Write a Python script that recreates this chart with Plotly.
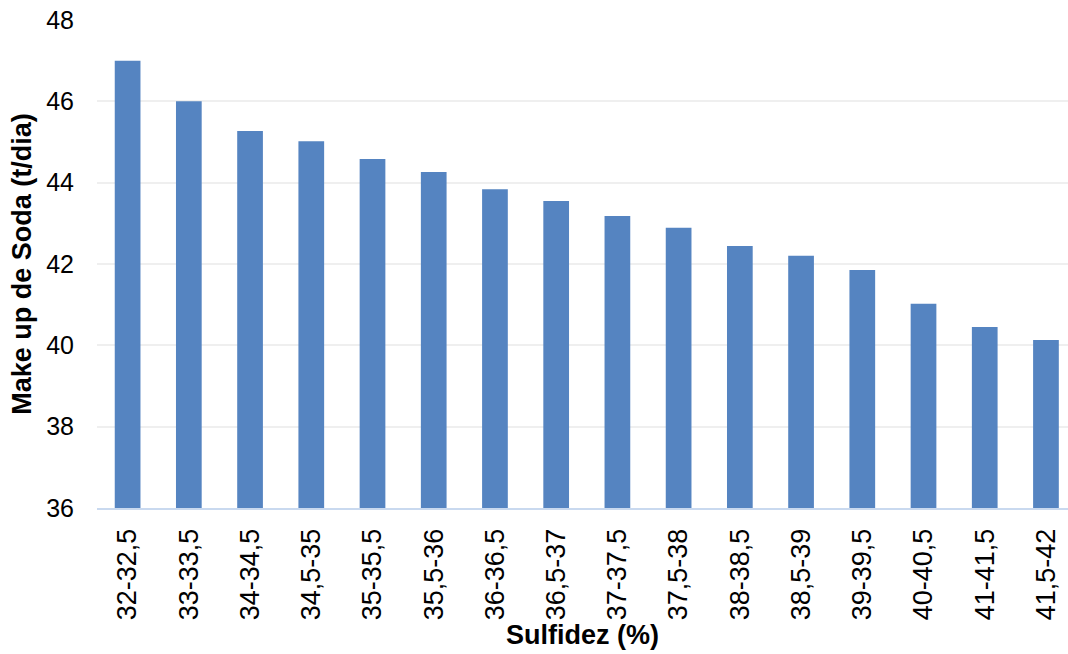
import plotly.graph_objects as go

categories = ["32-32,5", "33-33,5", "34-34,5", "34,5-35", "35-35,5", "35,5-36",
              "36-36,5", "36,5-37", "37-37,5", "37,5-38", "38-38,5", "38,5-39",
              "39-39,5", "40-40,5", "41-41,5", "41,5-42"]
make_up_soda = [47.0, 46.0, 45.27, 45.02, 44.58, 44.26, 43.84, 43.55,
                43.18, 42.89, 42.44, 42.2, 41.85, 41.02, 40.45, 40.13]
y_ticks = [36, 38, 40, 42, 44, 46, 48]

font_family = "Liberation Sans, Arial, sans-serif"

fig = go.Figure(
    go.Bar(
        x=categories,
        y=make_up_soda,
        marker=dict(color="#5584c1", line=dict(width=0)),
        width=0.42,
    )
)

fig.update_layout(
    width=1068,
    height=654,
    margin=dict(l=97, r=0, t=20, b=146),
    paper_bgcolor="white",
    plot_bgcolor="white",
    showlegend=False,
    font=dict(family=font_family, size=25, color="#000000"),
)

fig.update_xaxes(
    range=[-0.5, 15.36],
    tickangle=-90,
    tickfont=dict(size=27, color="#000000"),
    ticklabelstandoff=8,
    showgrid=False,
    showline=True,
    linecolor="#c9d9ef",
    linewidth=2,
    ticks="",
    title=dict(text="<b>Sulfidez (%)</b>", font=dict(size=27), standoff=5),
)

fig.update_yaxes(
    range=[36, 48],
    tickvals=y_ticks,
    tickfont=dict(size=25, color="#000000"),
    ticklabelstandoff=22,
    showgrid=True,
    gridcolor="#efefef",
    gridwidth=2,
    zeroline=False,
    showline=False,
    ticks="",
    title=dict(text="<b>Make up de Soda (t/dia)</b>", font=dict(size=27), standoff=6),
)

fig.write_html("out.html")
